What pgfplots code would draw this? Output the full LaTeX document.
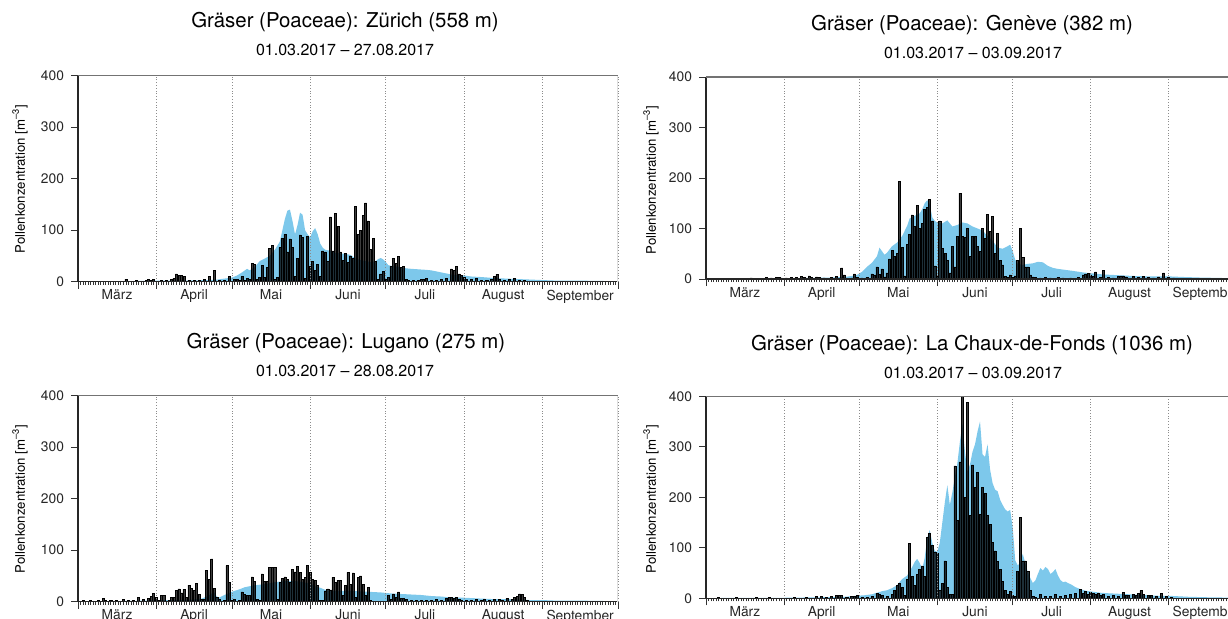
\documentclass[border=0pt]{standalone}
\usepackage{fontspec}
\setmainfont{TeX Gyre Heros}
\usepackage{pgfplots}
\pgfplotsset{compat=1.18}
\definecolor{pollenblue}{RGB}{125,200,235}
\pgfplotsset{pollen/.style={
  scale only axis, width=270pt, height=103pt,
  xmin=0, xmax=214, ymin=0, ymax=400,
  axis x line*=bottom, axis y line*=left,
  axis line style={line width=0.55pt, color=black!85},
  xtick={0,31,61,92,122,153,184,214},
  xticklabels={März,April,Mai,Juni,Juli,August,September},
  x tick label as interval,
  minor xtick={1,...,213},
  ytick={0,100,200,300,400},
  tick align=outside,
  major tick length=3.5pt, minor tick length=1.5pt,
  xmajorgrids, major x grid style={densely dotted, black!45, line width=0.4pt},
  tick style={black!80, line width=0.4pt},
  ticklabel style={font=\fontsize{6.9}{8}\selectfont, text=black!85},
  xticklabel style={yshift=3pt},
  /pgf/number format/assume math mode=true,
  axis on top,
  after end axis/.code={
    \draw[black!55, line width=0.55pt] (rel axis cs:0,1) -- (rel axis cs:1,1);
    \draw[black!12, line width=0.5pt] (rel axis cs:1,0) -- (rel axis cs:1,1);
  },
}}
\pgfplotsset{clim/.style={fill=pollenblue, draw=none}}
\pgfplotsset{bars/.style={ybar, bar width=0.82, fill=black, fill opacity=0.76, draw=black, line width=0.3pt}}
\newcommand{\ttl}[1]{\fontsize{10.2}{12}\selectfont #1}
\newcommand{\sub}[1]{\fontsize{8}{10}\selectfont #1}
\newcommand{\ylab}{\fontsize{6.6}{8}\selectfont Pollenkonzentration [m\textsuperscript{–3}]}
\begin{document}
\begin{tikzpicture}
\useasboundingbox (0,0) rectangle (614pt,309pt);
\clip (0,0) rectangle (614pt,309pt);

% ---------- Zürich ----------
\begin{axis}[pollen, at={(39pt,168.15pt)}, anchor=south west]
\addplot[clim] coordinates {(0,1)(10,1)(20,1)(30,2)(40,2)(50,3)(55,4)(58,6)(61,8)(63,12)(65,18)(67,25)(68,22)(70,28)(72,40)(74,45)(76,50)(78,62)(80,78)(81,100)(82,122)(83,138)(84,140)(85,118)(86,92)(87,110)(88,134)(89,130)(90,100)(91,92)(92,86)(93,98)(94,104)(95,92)(96,74)(97,66)(98,62)(100,60)(102,56)(104,55)(106,54)(108,52)(110,45)(112,42)(114,40)(116,38)(118,40)(119,44)(120,46)(121,43)(122,38)(123,32)(125,30)(128,28)(130,26)(132,25)(135,24)(138,23)(140,22)(142,20)(145,17)(148,14)(150,13)(153,12)(156,10)(160,9)(165,7)(170,6)(175,5)(180,4)(185,3)(190,2)(200,2)(213,1)} \closedcycle;
\addplot[bars] coordinates {(19,5)(23,2)(27,3)(28,4)(29,3)(30,5)(33,2)(35,2)(37,4)(38,7)(39,15)(40,12)(41,12)(42,11)(44,3)(46,2)(48,3)(50,4)(52,10)(54,22)(56,3)(58,2)(60,11)(62,4)(63,5)(64,2)(65,10)(66,3)(67,6)(68,4)(69,36)(70,34)(71,5)(72,9)(73,32)(74,8)(75,28)(76,64)(77,71)(78,5)(79,8)(80,66)(81,84)(82,92)(83,58)(84,83)(85,66)(86,10)(87,45)(88,91)(89,86)(90,6)(91,88)(92,30)(93,40)(94,22)(95,33)(96,10)(97,60)(98,58)(99,40)(100,126)(101,60)(102,132)(103,108)(104,58)(105,42)(106,55)(107,38)(108,50)(109,45)(110,146)(111,92)(112,100)(113,128)(114,153)(115,118)(116,62)(117,84)(118,40)(119,5)(120,15)(121,20)(122,4)(123,8)(124,30)(125,45)(126,35)(127,49)(128,28)(129,30)(130,4)(131,2)(133,3)(135,3)(136,5)(137,4)(138,6)(140,3)(142,2)(144,5)(146,6)(148,25)(149,22)(150,30)(151,15)(152,12)(153,8)(154,5)(156,4)(158,6)(160,3)(162,3)(164,5)(165,10)(166,14)(167,5)(169,3)(171,4)(173,6)(175,3)(177,2)};
\end{axis}

% ---------- Genève ----------
\begin{axis}[pollen, width=269pt, height=101pt, at={(353pt,169.5pt)}, anchor=south west]
\addplot[clim] coordinates {(0,1)(20,1)(40,2)(50,3)(55,4)(58,6)(60,8)(62,14)(64,24)(66,32)(68,45)(69,62)(70,55)(71,48)(72,52)(74,65)(76,72)(78,85)(80,105)(81,120)(83,125)(85,130)(86,138)(87,150)(88,156)(89,148)(90,122)(91,115)(92,112)(94,110)(96,116)(98,104)(100,107)(102,112)(104,110)(106,104)(108,100)(110,96)(112,85)(114,76)(116,62)(118,60)(120,65)(121,68)(122,55)(123,38)(124,30)(126,28)(128,30)(130,31)(132,34)(134,33)(136,26)(138,22)(140,20)(143,18)(146,16)(150,13)(154,11)(158,9)(162,8)(166,7)(170,6)(178,5)(185,5)(190,4)(196,3)(205,2)(213,1)} \closedcycle;
\addplot[bars] coordinates {(18,2)(24,3)(26,2)(28,3)(29,3)(30,2)(32,2)(34,3)(36,3)(38,5)(39,3)(41,6)(42,3)(44,4)(45,3)(47,2)(50,3)(52,5)(54,22)(55,8)(58,2)(59,10)(60,3)(62,2)(64,3)(66,10)(67,8)(68,24)(69,9)(70,20)(71,4)(72,12)(73,40)(74,57)(75,45)(76,50)(77,193)(78,62)(79,6)(80,68)(81,88)(82,127)(83,104)(84,145)(85,100)(86,110)(87,138)(88,142)(89,158)(90,115)(91,26)(92,5)(93,115)(94,60)(95,50)(96,37)(97,12)(98,64)(99,24)(100,85)(101,170)(102,85)(103,82)(104,100)(105,44)(106,85)(107,84)(108,64)(109,54)(110,100)(111,80)(112,128)(113,95)(114,124)(115,50)(116,91)(117,37)(118,28)(119,5)(120,3)(121,8)(122,3)(123,6)(124,37)(125,100)(126,43)(127,24)(128,24)(129,8)(130,4)(131,3)(133,2)(135,3)(137,2)(140,3)(142,2)(145,2)(148,3)(150,8)(151,10)(152,11)(153,8)(154,5)(155,14)(157,3)(158,17)(160,3)(162,2)(164,5)(165,6)(166,6)(167,4)(170,5)(172,3)(174,5)(176,3)(178,2)(180,4)(182,12)(184,3)(186,2)};
\end{axis}

% ---------- Lugano ----------
\begin{axis}[pollen, at={(39pt,8.15pt)}, anchor=south west]
\addplot[clim] coordinates {(0,1)(15,1)(25,2)(33,3)(40,3)(45,4)(49,6)(51,10)(53,16)(54,18)(55,10)(56,8)(58,13)(60,17)(62,21)(64,24)(66,28)(68,30)(70,32)(72,33)(74,34)(76,36)(78,38)(80,39)(82,40)(84,40)(86,40)(88,39)(90,37)(92,36)(94,30)(96,27)(98,23)(100,21)(104,21)(108,21)(112,20)(116,19)(120,18)(124,16)(128,15)(132,14)(136,13)(140,11)(144,10)(148,8)(152,8)(156,7)(160,6)(165,5)(170,5)(175,4)(180,3)(185,3)(190,2)(200,2)(213,1)} \closedcycle;
\addplot[bars] coordinates {(2,2)(5,2)(8,3)(10,6)(11,3)(13,2)(15,2)(18,5)(20,2)(22,3)(24,8)(26,4)(28,6)(29,11)(30,16)(31,8)(32,2)(33,12)(34,13)(36,3)(37,8)(38,8)(39,22)(40,25)(41,17)(42,24)(43,8)(44,32)(45,26)(46,22)(47,35)(48,14)(49,5)(50,5)(51,61)(52,43)(53,83)(54,26)(55,8)(56,5)(58,3)(59,70)(60,37)(61,3)(62,5)(64,3)(65,19)(66,14)(67,12)(68,13)(69,48)(70,40)(71,5)(72,3)(73,54)(74,40)(75,40)(76,67)(77,66)(78,67)(79,5)(80,37)(81,45)(82,48)(83,43)(84,37)(85,63)(86,58)(87,68)(88,57)(89,43)(90,47)(91,70)(92,57)(93,44)(94,41)(95,31)(96,2)(97,3)(98,21)(99,25)(100,23)(101,47)(102,38)(103,42)(104,41)(105,12)(106,31)(107,57)(108,34)(109,56)(110,8)(111,47)(112,50)(113,34)(114,12)(115,27)(116,2)(123,12)(124,5)(125,15)(126,8)(127,19)(128,7)(129,7)(130,5)(132,3)(134,2)(136,3)(138,2)(140,3)(142,4)(144,3)(146,6)(147,8)(148,8)(149,7)(150,8)(151,4)(152,3)(154,3)(156,2)(158,5)(160,3)(161,5)(163,3)(165,4)(167,5)(168,3)(170,6)(172,5)(173,8)(174,10)(175,15)(176,14)(177,8)(178,3)};
\end{axis}

% ---------- La Chaux-de-Fonds ----------
\begin{axis}[pollen, width=269pt, height=101pt, at={(353pt,9.85pt)}, anchor=south west]
\addplot[clim] coordinates {(0,0.5)(30,1)(45,2)(55,3)(60,5)(63,6)(66,8)(68,11)(70,14)(72,16)(74,20)(76,26)(77,32)(78,38)(80,45)(82,62)(83,72)(84,78)(85,70)(86,58)(87,80)(88,120)(89,135)(90,110)(91,94)(92,92)(93,110)(94,150)(95,190)(96,224)(97,185)(98,210)(99,240)(100,268)(101,310)(102,345)(103,290)(104,250)(105,265)(106,290)(107,305)(108,330)(109,350)(110,285)(111,280)(112,305)(113,255)(114,228)(115,215)(116,212)(117,195)(118,185)(119,176)(120,172)(121,175)(122,140)(123,75)(124,65)(125,70)(126,88)(127,70)(128,52)(129,40)(130,30)(131,35)(132,48)(133,60)(134,55)(135,62)(136,58)(137,48)(138,52)(139,58)(140,45)(141,36)(142,32)(143,33)(144,30)(145,28)(147,22)(149,18)(151,15)(154,13)(157,11)(160,10)(164,9)(168,8)(172,7)(176,6)(180,5)(184,5)(188,4)(192,3)(200,2)(213,1)} \closedcycle;
\addplot[bars] coordinates {(5,1)(12,1)(20,1)(25,1)(35,1)(40,2)(44,4)(46,3)(48,2)(50,4)(52,5)(53,5)(54,6)(56,2)(58,3)(59,4)(60,5)(62,2)(64,2)(66,3)(68,10)(69,8)(70,6)(72,3)(74,8)(75,15)(76,25)(77,29)(78,21)(79,5)(80,38)(81,109)(82,44)(83,25)(84,48)(85,58)(86,64)(87,44)(88,120)(89,129)(90,104)(91,92)(92,89)(93,16)(94,30)(95,74)(96,21)(97,7)(98,8)(99,262)(100,155)(101,270)(102,400)(103,200)(104,388)(105,164)(106,264)(107,220)(108,250)(109,166)(110,220)(111,208)(112,164)(113,147)(114,111)(115,94)(116,73)(117,58)(118,33)(119,16)(120,7)(121,13)(122,5)(123,3)(124,54)(125,160)(126,74)(127,74)(128,54)(129,15)(130,3)(131,2)(133,8)(135,3)(137,4)(139,7)(141,3)(143,5)(145,7)(147,9)(149,18)(150,10)(151,13)(152,8)(153,12)(154,10)(155,7)(156,10)(157,6)(158,7)(160,4)(162,5)(164,3)(166,11)(167,6)(168,5)(170,8)(171,6)(172,10)(173,15)(174,8)(176,6)(177,5)(179,4)(181,10)(183,3)(185,2)};
\end{axis}

% ---------- titles ----------
\node at (172.5pt,298pt) {\ttl{Gräser (Poaceae): Zürich (558 m)}};
\node at (172.5pt,284pt) {\sub{01.03.2017 – 27.08.2017}};
\node at (486pt,296.5pt) {\ttl{Gräser (Poaceae): Genève (382 m)}};
\node at (486.5pt,282.5pt) {\sub{01.03.2017 – 03.09.2017}};
\node at (173pt,137.5pt) {\ttl{Gräser (Poaceae): Lugano (275 m)}};
\node at (172.5pt,123.5pt) {\sub{01.03.2017 – 28.08.2017}};
\node at (486pt,136.5pt) {\ttl{Gräser (Poaceae): La Chaux-de-Fonds (1036 m)}};
\node at (486.5pt,122.5pt) {\sub{01.03.2017 – 03.09.2017}};
% ---------- y labels ----------
\node[rotate=90] at (10pt,219.5pt) {\ylab};
\node[rotate=90] at (325.5pt,219pt) {\ylab};
\node[rotate=90] at (10pt,59.5pt) {\ylab};
\node[rotate=90] at (325.5pt,59.5pt) {\ylab};
\end{tikzpicture}
\end{document}
